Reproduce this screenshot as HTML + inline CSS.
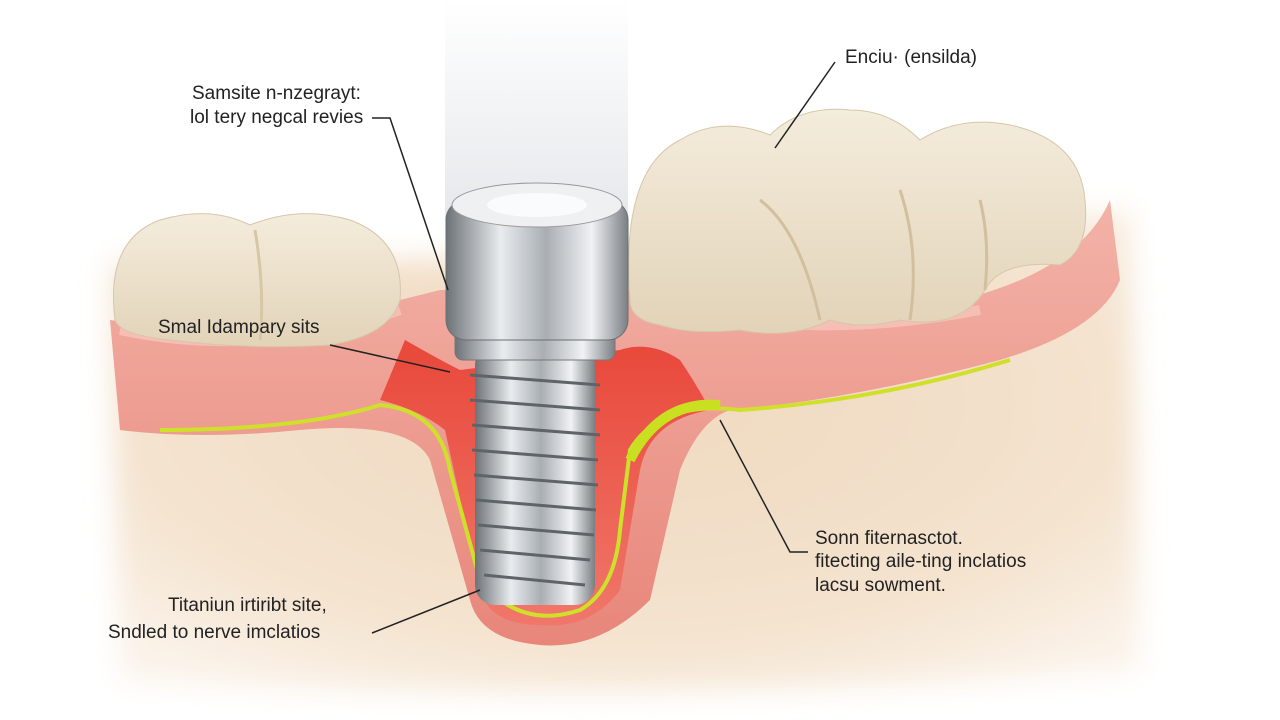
<!DOCTYPE html>
<html><head><meta charset="utf-8"><style>
html,body{margin:0;padding:0;background:#fff;}
svg{display:block}
text{font-family:"Liberation Sans",sans-serif;font-size:19px;fill:#222}
</style></head><body>
<svg width="1280" height="720" viewBox="0 0 1280 720" xmlns="http://www.w3.org/2000/svg">
<defs>
<radialGradient id="bone" cx="0.5" cy="0.4" r="0.7">
<stop offset="0" stop-color="#f0d9bf"/><stop offset="0.7" stop-color="#f4e3cf"/><stop offset="1" stop-color="#fbf3ea"/>
</radialGradient>
<filter id="blur" x="-10%" y="-10%" width="120%" height="120%"><feGaussianBlur stdDeviation="14"/></filter>
<linearGradient id="gum" x1="0" y1="0" x2="0" y2="1">
<stop offset="0" stop-color="#f3b3a8"/><stop offset="1" stop-color="#e8867a"/>
</linearGradient>
<linearGradient id="metal" x1="0" y1="0" x2="1" y2="0">
<stop offset="0" stop-color="#6d7277"/><stop offset="0.3" stop-color="#e8ecef"/><stop offset="0.55" stop-color="#a9aeb3"/><stop offset="0.8" stop-color="#f0f2f4"/><stop offset="1" stop-color="#7a7f84"/>
</linearGradient>
<linearGradient id="glow" x1="0" y1="0" x2="0" y2="1">
<stop offset="0" stop-color="#fff"/><stop offset="1" stop-color="#dfe2e6"/>
</linearGradient>
<linearGradient id="tooth" x1="0" y1="0" x2="0" y2="1">
<stop offset="0" stop-color="#f4ecdc"/><stop offset="1" stop-color="#e2d3b8"/>
</linearGradient>
<linearGradient id="red" x1="0" y1="0" x2="0" y2="1">
<stop offset="0" stop-color="#e8483a"/><stop offset="1" stop-color="#f0776a"/>
</linearGradient>
</defs>
<rect width="1280" height="720" fill="#fff"/>
<!-- bone -->
<path d="M110 260 Q600 270 1130 210 L1140 670 Q620 710 120 680 Z" fill="url(#bone)" filter="url(#blur)"/>
<!-- glow -->
<rect x="445" y="0" width="183" height="220" fill="url(#glow)" opacity="0.8"/>
<!-- gum band -->
<path d="M110 320 Q260 340 400 300 L440 290 L640 290 Q800 330 960 300 Q1080 270 1110 200 L1120 280 Q1100 330 1000 360 Q850 400 730 410 Q700 420 680 470 L650 600 Q600 650 540 645 Q480 640 470 600 L430 460 Q410 420 300 430 Q200 440 120 430 Z" fill="url(#gum)"/>
<path d="M120 330 Q260 360 400 310 M640 300 Q800 345 980 310" stroke="#f8c9c0" stroke-width="10" fill="none" opacity="0.7"/>
<!-- red socket -->
<path d="M405 340 Q440 360 460 370 L620 350 Q650 340 680 360 Q700 390 710 410 Q650 420 640 470 L620 590 Q590 630 540 625 Q490 625 480 590 L445 430 Q420 410 380 400 Z" fill="url(#red)"/>
<!-- yellow nerve -->
<path d="M160 430 Q300 430 380 405 Q440 410 450 470 L480 580 Q520 630 580 610 Q615 590 620 530 L630 450 Q660 400 740 410 Q880 400 1010 360" stroke="#cfe02a" stroke-width="4" fill="none"/>
<path d="M630 460 Q660 400 720 405" stroke="#c8e020" stroke-width="10" fill="none"/>
<!-- left teeth -->
<path d="M115 320 Q105 240 160 220 Q210 205 250 225 Q300 205 350 220 Q405 240 400 300 Q390 335 330 345 Q250 350 170 340 Q120 335 115 320 Z" fill="url(#tooth)" stroke="#d6c6aa"/>
<path d="M255 230 Q265 290 260 340" stroke="#d8c7a7" stroke-width="3" fill="none"/>
<!-- right teeth -->
<path d="M630 300 Q620 170 680 140 Q720 115 770 135 Q800 105 850 110 Q890 110 920 140 Q960 115 1010 125 Q1080 140 1085 200 Q1090 250 1060 265 Q1000 260 985 290 Q960 330 900 320 Q860 330 830 320 Q790 340 740 330 Q690 335 660 325 Q630 320 630 300 Z" fill="url(#tooth)" stroke="#d6c6aa"/>
<path d="M760 200 Q800 230 820 320 M900 190 Q920 250 910 320 M980 200 Q990 240 985 290" stroke="#d2bf9d" stroke-width="3" fill="none"/>
<!-- implant threads -->
<rect x="475" y="345" width="120" height="260" rx="20" fill="url(#metal)"/>
<g stroke="#5f6469" stroke-width="3" fill="none">
<path d="M470 375 L600 385 M470 400 L600 410 M472 425 L600 435 M472 450 L598 460 M474 475 L598 485 M476 500 L596 510 M478 525 L594 535 M480 550 L590 560 M484 575 L585 585"/>
</g>
<rect x="455" y="320" width="160" height="40" rx="8" fill="url(#metal)" stroke="#777"/>
<!-- cap -->
<rect x="446" y="200" width="182" height="140" rx="20" fill="url(#metal)" stroke="#6a6f74"/>
<ellipse cx="537" cy="205" rx="85" ry="22" fill="#eef0f2" stroke="#999"/>
<ellipse cx="537" cy="205" rx="50" ry="12" fill="#fafbfc"/>
<!-- leader lines -->
<g stroke="#222" stroke-width="1.5" fill="none">
<path d="M372 118 L390 118 L448 290"/>
<path d="M835 62 L775 148"/>
<path d="M330 345 L450 372"/>
<path d="M808 552 L790 552 L720 420"/>
<path d="M372 633 L480 590"/>
</g>
<text x="192" y="99">Samsite n-nzegrayt:</text>
<text x="190" y="123">lol tery negcal revies</text>
<text x="845" y="63">Enciu· (ensilda)</text>
<text x="158" y="333">Smal Idampary sits</text>
<text x="815" y="544">Sonn fiternasctot.</text>
<text x="815" y="567">fitecting aile-ting inclatios</text>
<text x="815" y="591">lacsu sowment.</text>
<text x="168" y="611">Titaniun irtiribt site,</text>
<text x="108" y="638">Sndled to nerve imclatios</text>
</svg>
</body></html>
